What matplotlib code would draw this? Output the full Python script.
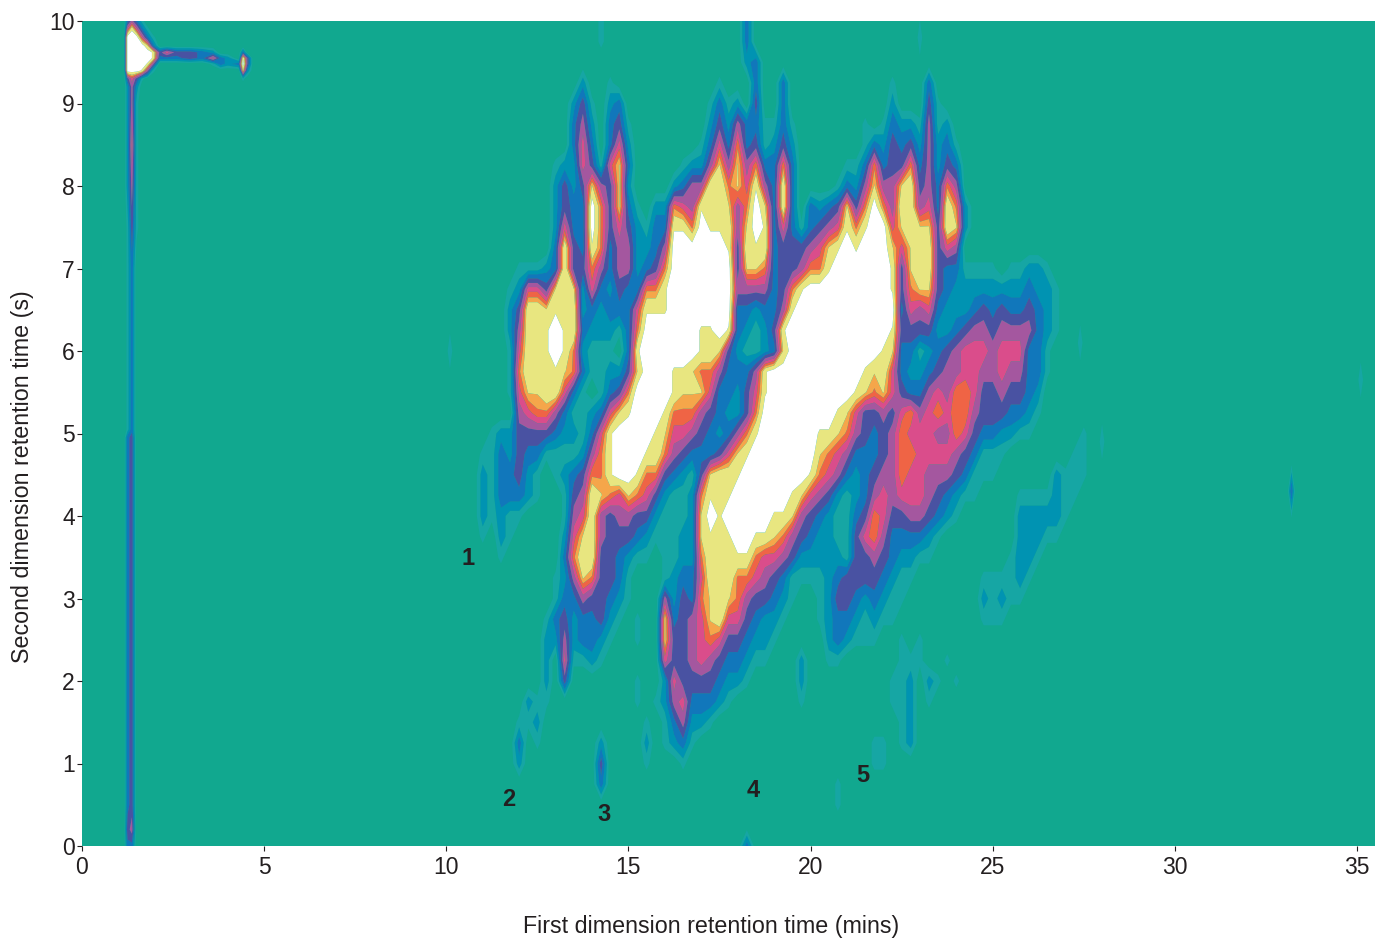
import numpy as np
import matplotlib
matplotlib.use("Agg")
import matplotlib.pyplot as plt

plt.rcParams['font.family'] = ['Liberation Sans', 'DejaVu Sans']

BAND_COLOURS = ['#16A6A4', '#0093B2', '#1177BB', '#4952A2', '#A4579F',
                '#DA4D8B', '#EF6445', '#F5A64A', '#E8E680', '#FFFFFF']
BACKGROUND = '#11A88F'
INK = '#231F20'
BAND_LIMITS = [0.7, 1.5, 2.4, 3.4, 4.5, 5.5, 6.4, 7.2, 7.9, 9.2, 11]

# Main cluster: response level (hex digit, 0-a) per row, one group = 1 min, 4 columns per min from 10 min
main_t1_start = 10.0
main_t1_step = 0.25
main_t2 = [10 - 0.25 * i for i in range(41)]
main_rows = [
    "0000 0000 0000 0000 0100 0000 0000 0000 0300",
    "0000 0000 0000 0000 0100 0000 0000 0000 0300",
    "0000 0000 0000 0000 0000 0000 0000 0000 0230",
    "0000 0000 0000 0002 0010 0000 0000 0010 0030 0300 0000 0000 0100 0300",
    "0000 0000 0000 0024 1023 0000 0000 0131 2040 0300 0000 0000 0200 0410",
    "0000 0000 0000 0035 2034 1000 0000 0242 5331 1310 0000 0010 1322 1512",
    "0000 0000 0000 0036 3036 2000 0000 1363 7341 2420 0000 0013 2434 2523 1",
    "0000 0000 0000 1226 4168 3000 0012 2585 8573 3730 0000 1137 3447 3524 3",
    "0000 0000 0000 2424 8548 2000 0235 5997 8695 3930 0001 3258 5589 4537 5",
    "0000 0000 0000 2433 a748 3102 2765 9998 57a8 3930 3234 847a 7599 5639 7 2",
    "0000 0000 0000 2633 a746 4213 3997 a999 58a9 3631 3456 979a a688 8849 8 2",
    "0000 0000 0000 3943 9735 5223 5aaa aaa9 4999 3444 5689 a9aa a868 9946 5",
    "0000 0000 1112 3944 7535 5234 7aaa aaaa 4887 3445 779a aaaa a948 9943 3111 1011 221",
    "0000 0001 2664 8982 6324 3377 9aaa aaaa 5555 3479 aaaa aaaa a947 8843 2222 2222 3221",
    "0000 0002 4998 9992 3233 3699 9aaa aaaa 3323 359a aaaa aaaa aa36 5632 2234 3433 4321",
    "0000 0002 5999 a993 2221 37aa aaaa 99a9 3212 49aa aaaa aaaa a944 4422 3455 4555 5321",
    "0000 0001 6999 a972 1110 39aa aaaa 9984 2112 38aa aaaa aaaa 9833 1234 5666 5666 3310",
    "0000 0001 7999 9873 1122 48aa a998 7753 3359 aaaa aaaa aa98 9632 2345 5665 5655 3310",
    "0000 0001 6889 9631 0134 7aaa a988 8633 2469 aaaa aaaa a987 8643 3565 7764 4544 3200",
    "0000 0000 5677 5311 2368 9aaa 9777 5432 247a aaaa aaa9 8644 5467 5676 7754 4433 2100",
    "0000 0122 4444 3221 369a aaa9 8665 4323 579a aaaa a998 7543 4576 6655 7643 3221 1000 0010",
    "0000 1132 4331 1112 579a aa99 7543 3346 89aa aaaa a876 5333 4577 6666 5431 1100 0000 0110",
    "0000 2133 4210 1234 779a a977 4321 4899 9aaa aaaa 9765 3234 5576 6555 4311 1000 0002 1110",
    "0000 2133 3210 0145 9876 8764 2112 7999 aaaa aa98 6542 1235 6566 6543 2110 0001 1112 11",
    "0000 2121 1000 0156 9545 5442 1112 8a9a aaaa 9985 4321 1347 6445 5432 1000 0002 2222 1",
    "0000 1021 0000 0268 9544 4321 1122 8999 aa99 8754 3221 1467 5333 3210 0000 0002 2211",
    "0000 0010 0000 0379 9443 2110 1122 7999 9976 6542 2222 1445 4322 1100 0000 0012 21",
    "0000 0000 0000 1258 7443 1000 1233 6999 7765 4311 1123 4444 3211 0000 0001 1112 1",
    "0000 0000 0000 1335 4432 1000 5243 7898 7544 3210 0124 4323 2110 0000 0002 1211",
    "0000 0000 0001 3423 3421 0100 8345 6896 6432 2100 0123 3212 1100 0000 0001 11",
    "0000 0000 0002 2523 3210 0100 8445 6764 4322 1000 0023 2111 0010 1",
    "0000 0000 0002 0611 2100 0000 6445 6543 3211 0002 0011 0000 0011 1001",
    "0000 0000 0002 0400 0000 0100 2644 4432 2100 0002 0000 0000 0112 0210 1",
    "0000 0000 0211 0000 0000 0101 2563 3321 0000 0001 0000 0000 0112 0100",
    "0000 0000 1120 0000 0000 0010 1352 2100 0000 0000 0000 0000 0012",
    "0000 0000 3010 0000 0200 0020 1231 0000 0000 0000 0000 0001 1012",
    "0000 0000 2000 0000 0400 0010 0010 0000 0000 0000 0000 0001 1",
    "0000 0000 0000 0000 0300 0000 0000 0000 0000 0000 0001",
    "0000 0000 0000 0000 0000 0000 0000 0000 0000 0000 0001",
    "",
    "0000 0000 0000 0000 0000 0000 0000 0000 0300",
]

# Solvent front and its tail at the top left
front_t1 = [1.15, 1.25, 1.37, 1.5, 1.65, 1.8, 1.95, 2.14, 2.24, 2.33, 2.6, 2.96,
            3.3, 3.6, 3.8, 4.0, 4.3, 4.42, 4.55, 4.7]
front_t2 = [10.0, 9.9, 9.8, 9.7, 9.62, 9.55, 9.48, 9.4, 9.3, 9.2, 9.0, 8.5, 8.0, 7.5,
            7.0, 6.0, 5.05, 4.95, 3.0, 2.0, 1.0, 0.5, 0.2, 0.0]
front_rows = [
    "03531000000000000000",
    "06963100000000000000",
    "0aaa6310000000000000",
    "0aaaa830000000000000",
    "0aaaaa94564432000300",
    "0aaaaa93333436320940",
    "0aaaa950000001323" + "a40",
    "0aaa9510000000000820",
    "04641000000000000100",
    "02520000000000000000",
    "02510000000000000000",
    "02610000000000000000",
    "02510000000000000000",
    "01410000000000000000",
    "01300000000000000000",
    "01300000000000000000",
    "01300000000000000000",
    "03400000000000000000",
    "03400000000000000000",
    "03400000000000000000",
    "03400000000000000000",
    "03400000000000000000",
    "04500000000000000000",
    "03300000000000000000",
]

# Isolated small spots: first dimension, second dimension, level
spot_t1 = [33.2, 10.1, 27.4, 35.1, 28.0, 23.0]
spot_t2 = [4.3, 6.0, 6.1, 5.65, 4.9, 9.8]
spot_level = [3, 1, 1, 1, 1, 1]

# Numbered peak annotations
label_text = ['1', '2', '3', '4', '5']
label_t1 = [10.6, 11.72, 14.33, 18.42, 21.44]
label_t2 = [3.49, 0.56, 0.376, 0.67, 0.85]

x_ticks = [0, 5, 10, 15, 20, 25, 30, 35]
y_ticks = list(range(11))


def parse(rows, width):
    out = []
    for r in rows:
        r = r.replace(' ', '').ljust(width, '0')
        out.append([int(c, 16) for c in r])
    return np.array(out, dtype=float)


fig = plt.figure(figsize=(13.75, 9.39), dpi=100)
ax = fig.add_axes([82 / 1375, (939 - 846) / 939, 1293 / 1375, 825 / 939])
ax.set_facecolor(BACKGROUND)


def draw(xs, ys, Z):
    ax.contourf(xs, ys, Z, levels=BAND_LIMITS, colors=BAND_COLOURS, antialiased=True)


main_t1 = main_t1_start + main_t1_step * np.arange(73)
draw(main_t1, main_t2, parse(main_rows, 73))
draw(front_t1, front_t2, parse(front_rows, len(front_t1)))
for x0, y0, lv in zip(spot_t1, spot_t2, spot_level):
    draw([x0 - 0.12, x0, x0 + 0.12], [y0 - 0.4, y0, y0 + 0.4],
         np.array([[0, 0, 0], [0, lv + 0.5, 0], [0, 0, 0]], dtype=float))

ax.set_xlim(0, 1293 / 36.43)
ax.set_ylim(0, 10)
for s in ax.spines.values():
    s.set_visible(False)
ax.set_xticks(x_ticks)
ax.set_yticks(y_ticks)
ax.tick_params(axis='both', direction='out', length=3.6, width=0.8, color=INK,
               labelcolor=INK, labelsize=16.5)
ax.tick_params(axis='x', pad=3.5)
ax.tick_params(axis='y', pad=1.5)
fig.text(711 / 1375, 1 - 926.5 / 939, 'First dimension retention time (mins)',
         fontsize=16.75, color=INK, ha='center', va='center')
fig.text(22.5 / 1375, 1 - 477 / 939, 'Second dimension retention time (s)',
         fontsize=16.75, color=INK, ha='center', va='center', rotation=90)

for t, x0, y0 in zip(label_text, label_t1, label_t2):
    ax.text(x0, y0, t, fontsize=17, fontweight='bold', color=INK, ha='center', va='center')

fig.savefig('out.png', dpi=100, facecolor='white')
